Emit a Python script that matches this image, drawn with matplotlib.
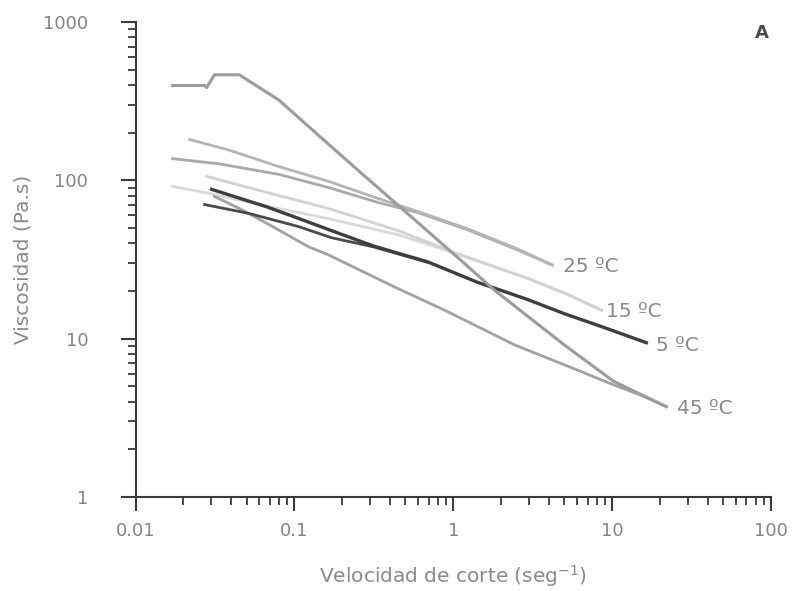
import matplotlib
matplotlib.use("Agg")
import matplotlib.pyplot as plt
from matplotlib.ticker import LogLocator, NullFormatter

plt.rcParams['font.family'] = ['DejaVu Sans']
plt.rcParams['mathtext.fontset'] = 'custom'
plt.rcParams['mathtext.rm'] = 'DejaVu Sans'

# Curve (shear rate, viscosity)
# steep curve with the plateau at the start
xa = [0.0171, 0.0272, 0.0280, 0.0314, 0.045, 0.080, 0.142, 0.261, 0.542,
      1.11, 1.82, 4.98, 10.2, 21.9]
ya = [397, 397, 385, 464, 464, 321, 192, 112, 59, 31.4, 20.2, 9.15, 5.38, 3.72]

# two upper curves ending at 25 ºC
xb = [0.0219, 0.039, 0.080, 0.164, 0.337, 0.60, 1.23, 2.53, 4.19]
yb = [181, 155, 122, 98.5, 76.7, 63.5, 49.4, 36.9, 29.2]
xc = [0.0171, 0.0337, 0.080, 0.164, 0.337, 0.60, 1.23, 2.53, 4.19]
yc = [137, 127, 109, 90, 72.4, 62.5, 48.7, 36.4, 29.2]

# light curves ending at 15 ºC
xd = [0.0171, 0.0292, 0.060, 0.164, 0.45, 1.11, 2.92, 5.2, 8.6]
yd = [91.6, 82.6, 70.3, 57.3, 45.3, 33.8, 24.1, 19.1, 15.1]
xe = [0.0280, 0.060, 0.164, 0.45, 1.11, 2.92, 5.2, 8.6]
ye = [106, 86.3, 66.4, 48.1, 33.8, 24.1, 19.1, 15.1]

# dark curves ending at 5 ºC
xf = [0.0301, 0.0664, 0.107, 0.171, 0.314, 0.693, 1.42, 2.92, 4.98, 9.24, 16.4]
yf = [87.7, 68.2, 57.3, 48.1, 38.5, 30.5, 22.7, 17.7, 14.4, 11.6, 9.43]
xg = [0.0272, 0.052, 0.107, 0.171, 0.314, 0.693]
yg = [70.3, 61.7, 50.9, 43.4, 38.0, 30.3]

# lower curve ending at 45 ºC
xh = [0.0314, 0.045, 0.0693, 0.123, 0.164, 0.431, 0.885, 2.42, 6.27, 9.64,
      15.3, 21.9]
yh = [79.1, 66.4, 52.5, 38.0, 33.8, 21.1, 15.1, 9.15, 6.24, 5.22, 4.38, 3.72]

tick_vals = [0.01, 0.1, 1, 10, 100]
tick_text = ["0.01", "0.1", "1", "10", "100"]
ytick_vals = [1, 10, 100, 1000]
ytick_text = ["1", "10", "100", "1000"]

fig = plt.figure(figsize=(7.94, 5.91), dpi=100)
ax = fig.add_axes([0.1707, 0.1591, 0.8004, 0.8037])

ax.plot(xd, yd, color="#d9d9d9", lw=2.0)
ax.plot(xe, ye, color="#d2d2d2", lw=2.0)
ax.plot(xc, yc, color="#aaaaaa", lw=2.0)
ax.plot(xb, yb, color="#b5b5b5", lw=2.0)
ax.plot(xh, yh, color="#a2a2a2", lw=2.0)
ax.plot(xg, yg, color="#4a4a4a", lw=2.0)
ax.plot(xf, yf, color="#3e3e3e", lw=2.4)
ax.plot(xa, ya, color="#9c9c9c", lw=2.2)

# labels at the line ends
label_color = "#8a8a8a"
ax.annotate("25 ºC", (xb[-1], yb[-1]), xytext=(8, -1), textcoords="offset points",
            va="center", ha="left", fontsize=14.5, color=label_color)
ax.annotate("15 ºC", (xe[-1], ye[-1]), xytext=(3, -1), textcoords="offset points",
            va="center", ha="left", fontsize=14.5, color=label_color)
ax.annotate("5 ºC", (xf[-1], yf[-1]), xytext=(7, -2), textcoords="offset points",
            va="center", ha="left", fontsize=14.5, color=label_color)
ax.annotate("45 ºC", (xh[-1], yh[-1]), xytext=(8, -1), textcoords="offset points",
            va="center", ha="left", fontsize=14.5, color=label_color)

ax.set_xscale("log")
ax.set_yscale("log")
ax.set_xlim(0.01, 100)
ax.set_ylim(1, 1000)

ax.set_xticks(tick_vals, tick_text)
ax.set_yticks(ytick_vals, ytick_text)
ax.xaxis.set_minor_locator(LogLocator(base=10, subs=range(2, 10)))
ax.yaxis.set_minor_locator(LogLocator(base=10, subs=range(2, 10)))
ax.xaxis.set_minor_formatter(NullFormatter())
ax.yaxis.set_minor_formatter(NullFormatter())

ax.spines["top"].set_visible(False)
ax.spines["right"].set_visible(False)
for s in ["left", "bottom"]:
    ax.spines[s].set_color("#3a3a3a")
    ax.spines[s].set_linewidth(1.5)

ax.tick_params(axis="x", which="major", direction="out", length=10, width=1.5,
               color="#3a3a3a", labelsize=13, labelcolor="#858585", pad=8)
ax.tick_params(axis="x", which="minor", direction="out", length=6, width=1.3,
               color="#3a3a3a")
ax.tick_params(axis="y", which="major", direction="out", length=11, width=1.5,
               color="#3a3a3a", labelsize=13, labelcolor="#858585", pad=23)
ax.tick_params(axis="y", which="minor", direction="out", length=6, width=1.3,
               color="#3a3a3a")

ax.set_xlabel("Velocidad de corte (seg$^{-1}$)", fontsize=14.5, color="#8a8a8a",
              labelpad=17)
ax.set_ylabel("Viscosidad (Pa.s)", fontsize=14.5, color="#8a8a8a", labelpad=8)

fig.text(0.96, 0.944, "A", fontsize=13, fontweight="bold", color="#4a4a4a",
         ha="center", va="center")

fig.savefig("out.png", dpi=100)
